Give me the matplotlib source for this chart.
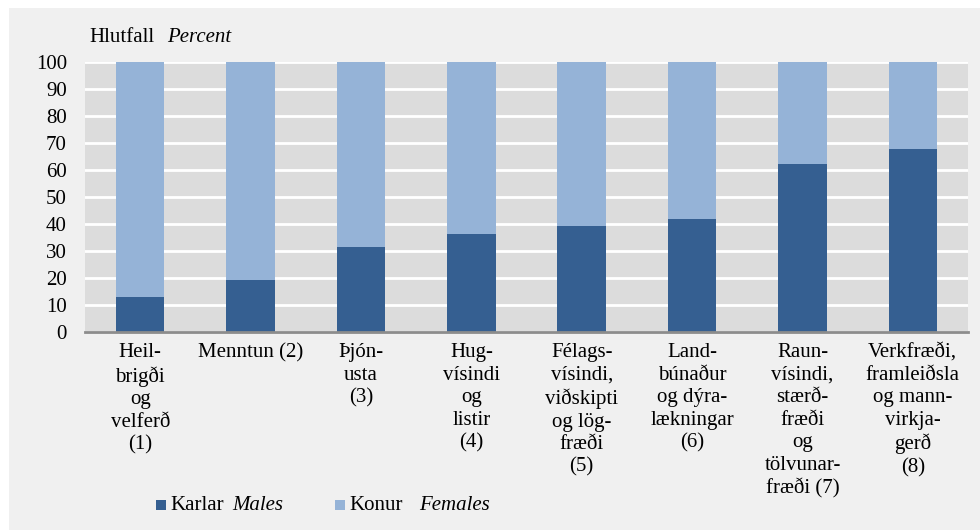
import matplotlib.pyplot as plt
from matplotlib.patches import Rectangle

plt.rcParams['font.family'] = 'serif'
plt.rcParams['font.serif'] = ['Liberation Serif', 'DejaVu Serif']

# ---------------------- data ----------------------
categories = [
    "Heil-\nbrigði\nog\nvelferð\n(1)",
    "Menntun (2)",
    "Þjón-\nusta\n(3)",
    "Hug-\nvísindi\nog\nlistir\n(4)",
    "Félags-\nvísindi,\nviðskipti\nog lög-\nfræði\n(5)",
    "Land-\nbúnaður\nog dýra-\nlækningar\n(6)",
    "Raun-\nvísindi,\nstærð-\nfræði\nog\ntölvunar-\nfræði (7)",
    "Verkfræði,\nframleiðsla\nog mann-\nvirkja-\ngerð\n(8)",
]
males = [13.1, 19.4, 31.6, 36.4, 39.3, 41.9, 62.2, 67.9]
females = [100 - m for m in males]
yticks = list(range(0, 101, 10))

C_MALE = "#355F91"
C_FEMALE = "#95B3D7"
PANEL = "#F0F0F0"
PLOT_BG = "#DCDCDC"
FS = 15

W, H = 980, 530
fig = plt.figure(figsize=(W / 100, H / 100), dpi=100)
fig.patch.set_facecolor("white")
fig.add_artist(Rectangle((9 / W, 0), 1 - 9 / W, 1 - 8 / H, transform=fig.transFigure,
                         facecolor=PANEL, edgecolor="none", zorder=-10))

ax = fig.add_axes([85 / W, 1 - 332 / H, (968 - 85) / W, (332 - 62) / H])
ax.set_facecolor(PLOT_BG)

x = list(range(len(categories)))
ax.bar(x, males, width=0.44, color=C_MALE, zorder=3)
ax.bar(x, females, bottom=males, width=0.44, color=C_FEMALE, zorder=3)

ax.set_xlim(-0.5, len(categories) - 0.5)
ax.set_ylim(0, 100)
ax.set_yticks(yticks)
ax.grid(axis="y", color="white", linewidth=2, zorder=1)
ax.set_axisbelow(True)
ax.tick_params(axis="both", length=0, labelsize=FS)
ax.tick_params(axis="y", pad=13)
ax.tick_params(axis="x", pad=8)
ax.set_xticks(x)
ax.set_xticklabels(categories, linespacing=1.25, va="top")
for s in ["left", "right", "top"]:
    ax.spines[s].set_visible(False)
ax.spines["bottom"].set_color("#8C8C8C")
ax.spines["bottom"].set_linewidth(2)
ax.spines["bottom"].set_zorder(5)

# y axis title
fig.text(89 / W, 1 - 38 / H, "Hlutfall", fontsize=FS, va="center", ha="left")
fig.text(167 / W, 1 - 38 / H, "Percent", fontsize=FS, va="center", ha="left", style="italic")

# legend
ly = 1 - 505 / H
sq = 10
legend_items = [(156, "Karlar", 170, "Males", 232, C_MALE),
                (335, "Konur", 349, "Females", 419, C_FEMALE)]
for x0, name, nx, eng, ex, col in legend_items:
    fig.add_artist(Rectangle((x0 / W, ly - sq / 2 / H), sq / W, sq / H, transform=fig.transFigure,
                             facecolor=col, edgecolor="none"))
    fig.text(nx / W, ly, name, fontsize=FS, va="center", ha="left")
    fig.text(ex / W, ly, eng, fontsize=FS, va="center", ha="left", style="italic")

fig.savefig("out.png", dpi=100, facecolor=fig.get_facecolor())
